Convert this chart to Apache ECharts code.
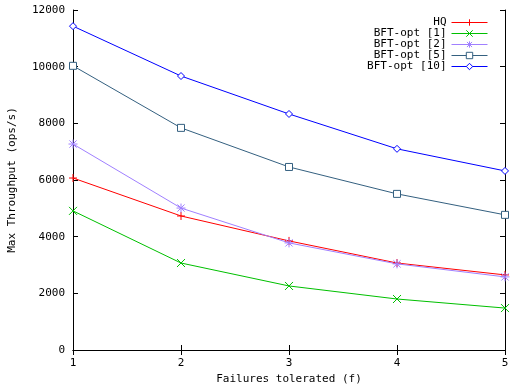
<!DOCTYPE html>
<html><head><meta charset="utf-8">
<script src="https://cdn.jsdelivr.net/npm/echarts@6/dist/echarts.min.js"></script>
<style>html,body{margin:0;padding:0;background:#fff}#c{width:512px;height:384px}</style>
</head><body><div id="c"></div>
<script>
const failures = [1, 2, 3, 4, 5];
const hq = [6070, 4730, 3850, 3070, 2650];
const bft1 = [4910, 3070, 2260, 1800, 1480];
const bft2 = [7270, 5010, 3780, 3040, 2580];
const bft5 = [10030, 7840, 6460, 5510, 4770];
const bft10 = [11430, 9670, 8330, 7100, 6320];
const yTicks = [0, 2000, 4000, 6000, 8000, 10000, 12000];
const seriesNames = ['HQ', 'BFT-opt [1]', 'BFT-opt [2]', 'BFT-opt [5]', 'BFT-opt [10]'];

const font = 'DejaVu Sans Mono';
const plusPath = 'path://M5,0L5,10M0,5L10,5';
const crossPath = 'path://M0,0L10,10M10,0L0,10';
const starPath = 'path://M5,0L5,10M0,5L10,5M1,1L9,9M9,1L1,9';
const styles = [
  { color: '#ff0000', symbol: plusPath, size: 8, hollow: false },
  { color: '#00c000', symbol: crossPath, size: 8, hollow: false },
  { color: '#a080ff', symbol: starPath, size: 9, hollow: false },
  { color: '#346080', symbol: 'rect', size: 7, hollow: true },
  { color: '#0000ff', symbol: 'diamond', size: 7, hollow: true }
];
const allData = [hq, bft1, bft2, bft5, bft10];

function itemStyleOf(s) {
  return { color: s.hollow ? '#fff' : s.color, borderColor: s.color, borderWidth: 1 };
}

const chart = echarts.init(document.getElementById('c'));
const axisLine = { show: true, lineStyle: { color: '#000', width: 1 } };
chart.setOption({
  animation: false,
  backgroundColor: '#fff',
  grid: { left: 73, right: 7, top: 10, bottom: 34, outerBoundsMode: 'none', containLabel: false },
  legend: {
    orient: 'vertical', right: 19, top: 12, align: 'right',
    itemWidth: 36, itemHeight: 8, itemGap: 0,
    textStyle: { fontFamily: font, fontSize: 11, lineHeight: 11, color: '#000' },
    data: seriesNames.map((n, i) => ({
      name: n,
      lineStyle: { color: styles[i].color, width: 1 },
      itemStyle: itemStyleOf(styles[i])
    }))
  },
  xAxis: [{
    type: 'value', min: 1, max: 5, interval: 1,
    name: 'Failures tolerated (f)', nameLocation: 'middle', nameGap: 21,
    nameTextStyle: { fontFamily: font, fontSize: 11, color: '#000' },
    axisLine, axisTick: { inside: true, length: 5, lineStyle: { color: '#000' } },
    axisLabel: { fontFamily: font, fontSize: 11, color: '#000', margin: 8 },
    splitLine: { show: false }
  }, {
    type: 'value', min: 1, max: 5, interval: 1, position: 'top',
    axisLine, axisTick: { inside: true, length: 5, lineStyle: { color: '#000' } },
    axisLabel: { show: false }, splitLine: { show: false }
  }],
  yAxis: [{
    type: 'value', min: yTicks[0], max: yTicks[yTicks.length - 1], interval: 2000,
    name: 'Max Throughput (ops/s)', nameLocation: 'middle', nameGap: 55, nameRotate: 90,
    nameTextStyle: { fontFamily: font, fontSize: 11, color: '#000' },
    axisLine, axisTick: { inside: true, length: 5, lineStyle: { color: '#000' } },
    axisLabel: { fontFamily: font, fontSize: 11, color: '#000', margin: 8, formatter: v => String(v) },
    splitLine: { show: false }
  }, {
    type: 'value', min: yTicks[0], max: yTicks[yTicks.length - 1], interval: 2000, position: 'right',
    axisLine, axisTick: { inside: true, length: 5, lineStyle: { color: '#000' } },
    axisLabel: { show: false }, splitLine: { show: false }
  }],
  series: seriesNames.map((n, i) => ({
    name: n, type: 'line', data: failures.map((f, j) => [f, allData[i][j]]),
    symbol: styles[i].symbol, symbolSize: styles[i].size,
    lineStyle: { color: styles[i].color, width: 1 },
    itemStyle: itemStyleOf(styles[i]),
    emphasis: { disabled: true },
    z: 3
  }))
});
</script></body></html>
